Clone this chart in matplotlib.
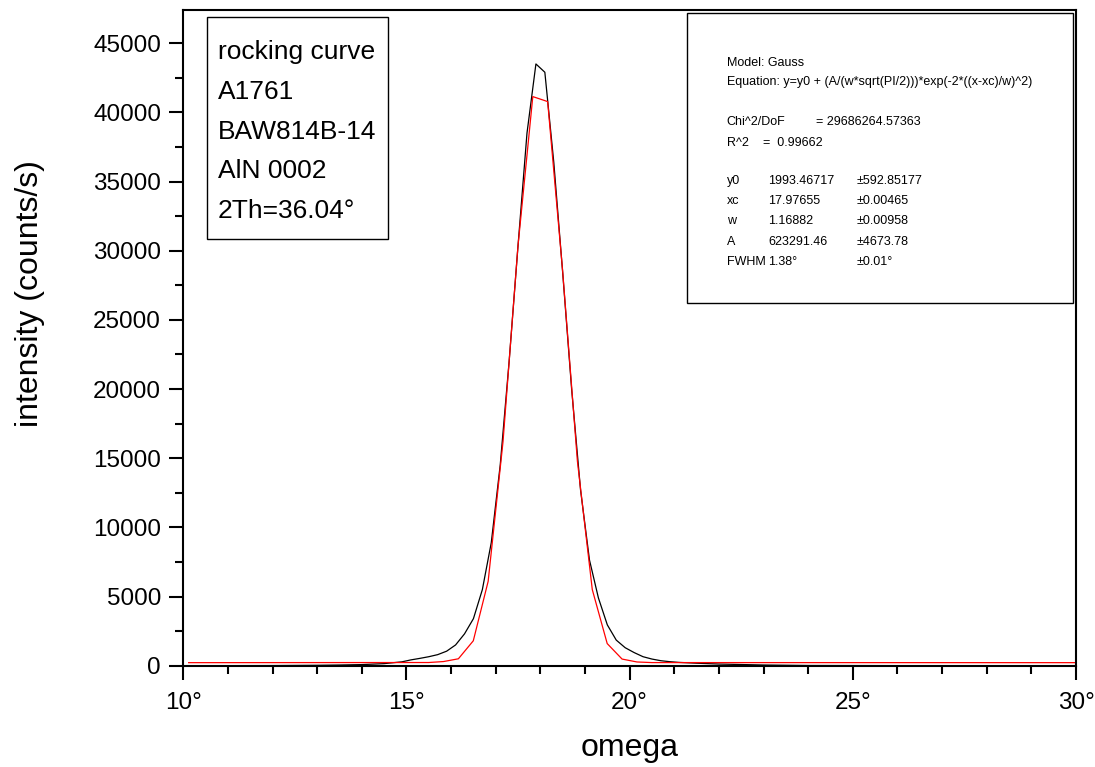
import matplotlib
matplotlib.use("Agg")
import matplotlib.pyplot as plt
from matplotlib.ticker import MultipleLocator, FuncFormatter
from matplotlib.patches import Rectangle

# measured data (black)
omega_data = [10.1, 11.0, 12.0, 13.0, 13.5, 14.0, 14.5, 14.9, 15.1, 15.3, 15.5, 15.7, 15.9,
              16.1, 16.3, 16.5, 16.7, 16.9, 17.1, 17.3, 17.5, 17.7, 17.9, 18.1, 18.3,
              18.5, 18.7, 18.9, 19.1, 19.3, 19.5, 19.7, 19.9, 20.1, 20.3, 20.5, 20.7,
              20.9, 21.1, 21.5, 22.0, 23.0, 24.0, 26.0, 28.0, 30.0]
intensity_data = [0, 5, 10, 30, 50, 80, 150, 280, 420, 530, 650, 800, 1050,
                  1500, 2300, 3400, 5500, 8900, 14500, 22000, 30400, 38500, 43500, 42900, 36400,
                  28400, 20000, 12700, 7640, 4900, 2950, 1850, 1300, 950, 650, 480, 360,
                  290, 240, 180, 120, 50, 15, 5, 0, 0]

# Gauss fit (red)
omega_fit = [10.12, 15.497, 15.83, 16.163, 16.497, 16.83, 17.163, 17.497, 17.83, 18.163,
             18.497, 18.83, 19.163, 19.497, 19.83, 20.163, 20.497, 29.98]
intensity_fit = [220, 230, 300, 500, 1800, 6100, 16200, 30300, 41140, 40780,
                 28600, 14770, 5500, 1600, 480, 270, 225, 220]

sample_lines = ["rocking curve", "A1761", "BAW814B-14", "AlN 0002", "2Th=36.04°"]
fit_rows = [("y0", "1993.46717", "±592.85177"),
            ("xc", "17.97655", "±0.00465"),
            ("w", "1.16882", "±0.00958"),
            ("A", "623291.46", "±4673.78"),
            ("FWHM", "1.38°", "±0.01°")]

W, H = 1095, 767
fig = plt.figure(figsize=(W / 100, H / 100), dpi=100)
ax = fig.add_axes([183.3 / W, 1 - 665.7 / H, (1076 - 183.3) / W, (665.7 - 10) / H])

ax.plot(omega_data, intensity_data, color="black", lw=0.9)
ax.plot(omega_fit, intensity_fit, color="#ff0000", lw=0.9)

ax.set_xlim(10, 30)
ax.set_ylim(0, 47400)
ax.xaxis.set_major_locator(MultipleLocator(5))
ax.xaxis.set_minor_locator(MultipleLocator(1))
ax.yaxis.set_major_locator(MultipleLocator(5000))
ax.yaxis.set_minor_locator(MultipleLocator(2500))
ax.xaxis.set_major_formatter(FuncFormatter(lambda v, p: f"{v:.0f}°"))
ax.yaxis.set_major_formatter(FuncFormatter(lambda v, p: f"{v:.0f}"))
ax.tick_params(which="major", direction="out", length=10, width=1.5, labelsize=17.5, pad=6,
               top=False, right=False)
ax.tick_params(which="minor", direction="out", length=5.5, width=1.5, top=False, right=False)
for lab in ax.get_xticklabels() + ax.get_yticklabels():
    lab.set_family("Liberation Sans")
ax.tick_params(axis="x", pad=9)
for s in ax.spines.values():
    s.set_linewidth(1.5)

fig.text(629.5 / W, 1 - 748 / H, "omega", ha="center", va="center", fontsize=23,
         family="Liberation Sans")
fig.text(30 / W, 1 - 294 / H, "intensity (counts/s)", ha="center", va="center", fontsize=23,
         rotation=90, family="Liberation Sans")

box_font = "Liberation Sans"

# sample box
fig.patches.append(Rectangle((206.7 / W, 1 - 239 / H), (388.3 - 206.7) / W, (239 - 17.3) / H,
                             transform=fig.transFigure, fill=False, lw=1.0, ec="black"))
for i, s in enumerate(sample_lines):
    fig.text(218 / W, 1 - (59 + 39.8 * i) / H, s, ha="left", va="baseline", fontsize=19,
             family=box_font)

# fit box
fig.patches.append(Rectangle((687 / W, 1 - 303 / H), (1073 - 687) / W, (303 - 13) / H,
                             transform=fig.transFigure, fill=False, lw=1.0, ec="black"))
fs = 9.0
def t(x, y, s):
    fig.text(x / W, 1 - y / H, s, ha="left", va="center", fontsize=fs, family=box_font)

t(726.7, 62.5, "Model: Gauss")
t(726.7, 81.5, "Equation: y=y0 + (A/(w*sqrt(PI/2)))*exp(-2*((x-xc)/w)^2)")
t(726.7, 122.3, "Chi^2/DoF")
t(816, 122.3, "= 29686264.57363")
t(726.7, 142.5, "R^2")
t(763.3, 142.5, "=  0.99662")
for i, (a, b, c) in enumerate(fit_rows):
    y = 181.3 + 20.1 * i
    t(726.7, y, a)
    t(768.3, y, b)
    t(856.7, y, c)

fig.savefig("out.png", dpi=100)
